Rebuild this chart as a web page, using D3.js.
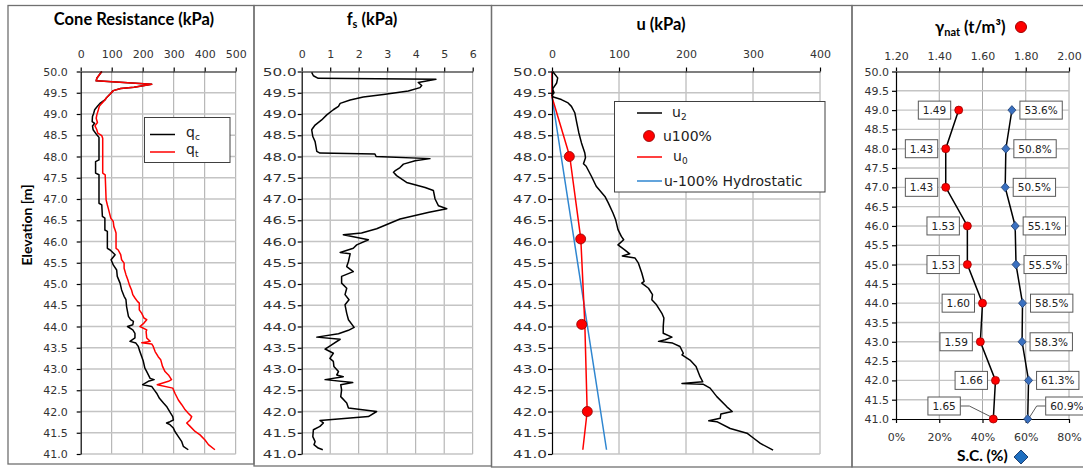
<!DOCTYPE html>
<html>
<head>
<meta charset="utf-8">
<script src="https://cdn.jsdelivr.net/npm/d3@7"></script>
<style>
  body { margin: 0; background: #fff; }
  text { font-family: "DejaVu Sans", sans-serif; }
  .ttl { font-family: Lato, "DejaVu Sans", sans-serif; font-weight: 700; fill: #000; }
</style>
</head>
<body>
<svg width="1083" height="468"></svg>
<script>
// ---- data ----
var elevTicks = d3.range(41, 50.001, 0.5);
var qcTicks = [0, 100, 200, 300, 400, 500];
var fsTicks = [0, 1, 2, 3, 4, 5, 6];
var uTicks = [0, 100, 200, 300, 400];
var gammaTicks = [1.2, 1.4, 1.6, 1.8, 2.0];
var scTicks = [0, 20, 40, 60, 80];

// [elevation m, kPa]
var qc = [[50.0,68],[49.84,52],[49.78,50],[49.70,229],[49.63,172],[49.60,129],[49.55,105],[49.47,95],
  [49.39,84],[49.33,78],[49.25,62],[49.18,54],[49.10,45],[49.02,42],[48.94,38],[48.82,37],[48.78,45],
  [48.72,38],[48.63,40],[48.51,52],[48.45,59],[47.92,59],[47.88,48],[47.61,48],[47.57,59],[46.90,59],
  [46.86,68],[46.59,70],[46.55,78],[46.27,78],[46.24,86],[45.84,86],[45.80,95],[45.69,111],[45.57,98],
  [45.45,105],[45.33,116],[45.18,118],[45.02,127],[44.86,132],[44.71,140],[44.63,146],[44.47,148],
  [44.24,154],[44.16,161],[44.12,170],[44.04,168],[44.00,151],[43.92,168],[43.84,175],[43.73,175],
  [43.65,159],[43.61,178],[43.53,186],[43.45,189],[43.29,197],[43.18,202],[43.02,207],[42.94,213],
  [42.78,224],[42.75,237],[42.71,218],[42.63,200],[42.59,229],[42.51,237],[42.43,245],[42.31,254],
  [42.20,267],[42.12,277],[41.96,290],[41.88,297],[41.80,299],[41.76,288],[41.73,277],[41.69,288],
  [41.61,299],[41.53,304],[41.41,315],[41.29,326],[41.18,331],[41.10,347]];

var qt = [[50.0,68],[49.84,52],[49.78,50],[49.70,229],[49.63,172],[49.60,129],[49.55,105],[49.47,95],
  [49.39,84],[49.33,78],[49.25,68],[49.18,60],[49.10,57],[48.98,52],[48.90,50],[48.80,54],[48.72,46],
  [48.63,52],[48.55,55],[48.49,68],[48.43,71],[47.61,71],[47.57,79],[46.98,82],[46.86,86],[46.78,89],
  [46.55,97],[46.47,105],[46.35,107],[46.27,111],[46.20,114],[45.84,114],[45.80,121],[45.69,129],
  [45.57,132],[45.49,140],[45.37,140],[45.22,146],[45.10,152],[44.98,157],[44.86,164],[44.75,168],
  [44.67,175],[44.59,183],[44.55,189],[44.39,189],[44.31,197],[44.20,204],[44.16,213],[44.08,204],
  [44.00,191],[43.92,213],[43.88,211],[43.73,213],[43.65,224],[43.62,197],[43.59,229],[43.53,234],
  [43.41,240],[43.29,250],[43.22,258],[43.06,264],[42.94,272],[42.86,283],[42.75,293],[42.71,283],
  [42.63,247],[42.55,297],[42.43,304],[42.27,315],[42.16,326],[42.04,337],[41.96,347],[41.88,358],
  [41.80,353],[41.73,342],[41.65,353],[41.53,369],[41.45,385],[41.33,401],[41.22,412],[41.10,433]];

var fs = [[49.98,0.35],[49.90,0.41],[49.84,0.58],[49.82,4.71],[49.74,4.09],[49.67,4.21],[49.62,4.15],
  [49.54,3.74],[49.46,2.87],[49.40,2.16],[49.33,1.70],[49.25,1.35],[49.18,1.29],[49.10,1.11],[48.98,0.88],
  [48.86,0.70],[48.74,0.47],[48.63,0.35],[48.47,0.39],[48.35,0.47],[48.12,0.53],[48.08,0.64],[48.06,2.57],
  [48.00,2.61],[47.95,4.50],[47.90,3.98],[47.82,3.57],[47.74,3.45],[47.66,3.27],[47.63,3.22],[47.55,3.33],
  [47.39,3.68],[47.27,4.33],[47.20,4.62],[47.00,4.68],[46.84,4.80],[46.77,5.09],[46.69,4.47],[46.53,3.45],
  [46.30,2.63],[46.20,2.10],[46.16,1.46],[46.04,2.34],[45.92,1.93],[45.84,1.81],[45.74,1.35],[45.71,1.70],
  [45.53,1.64],[45.41,1.58],[45.29,1.81],[45.18,1.40],[45.02,1.40],[44.90,1.58],[44.75,1.52],[44.63,1.66],
  [44.51,1.52],[44.31,1.58],[44.16,1.64],[43.98,1.84],[43.91,1.64],[43.83,1.29],[43.75,0.53],[43.70,1.35],
  [43.57,1.05],[43.47,0.82],[43.37,1.11],[43.25,0.99],[43.18,1.11],[43.06,1.13],[42.94,1.29],[42.86,1.23],
  [42.82,1.46],[42.75,0.82],[42.68,1.79],[42.63,1.37],[42.51,1.40],[42.35,1.37],[42.20,1.58],[42.08,1.64],
  [42.00,2.63],[41.88,2.34],[41.79,0.64],[41.73,0.76],[41.65,0.64],[41.57,0.41],[41.41,0.39],[41.29,0.47],
  [41.22,0.43],[41.14,0.58],[41.10,0.74]];

var u2 = [[50.0,1],[49.85,8.5],[49.73,7],[49.59,1],[49.50,3],[49.44,0],[49.40,2],[49.34,14],[49.26,24],
  [49.18,29],[49.03,34],[48.79,37],[48.56,40],[48.32,44],[48.08,49],[47.97,50],[47.83,47],[47.77,51],
  [47.53,59],[47.30,66],[47.06,79],[46.91,84],[46.67,91],[46.51,95],[46.28,98.5],[46.12,103.5],[46.04,107],
  [45.92,98.5],[45.81,108],[45.71,116],[45.66,105],[45.61,124],[45.49,129],[45.26,134],[45.06,137.5],
  [45.02,134],[44.90,144],[44.75,150],[44.63,149],[44.51,156],[44.31,164],[44.20,167],[44.00,166],
  [43.84,166],[43.75,179],[43.69,169],[43.65,159],[43.61,180],[43.53,191],[43.37,196],[43.33,194],
  [43.21,206],[43.06,215],[42.82,221],[42.70,225],[42.66,194],[42.64,226],[42.55,236],[42.35,246],
  [42.11,261],[42.00,269],[41.94,252],[41.84,251],[41.78,234],[41.76,246],[41.60,266],[41.49,291],
  [41.37,301],[41.25,311],[41.09,330]];
var u100 = [[48.0,25.9],[46.06,42.8],[44.05,44.3],[42.0,52.7]];
var u0 = [[50.0,0],[49.4,0],[48.0,26.5],[46.06,43],[44.05,49],[42.0,52.5],[41.1,46]];
var uHydro = [[50.0,0],[49.4,0],[41.1,81.4]];

var labElev = [49, 48, 47, 46, 45, 44, 43, 42, 41];
var gammaNat = [1.49, 1.43, 1.43, 1.53, 1.53, 1.60, 1.59, 1.66, 1.65];
var satCon = [53.6, 50.8, 50.5, 55.1, 55.5, 58.5, 58.3, 61.3, 60.9];

// ---- drawing ----
var svg = d3.select("svg");
var gridCol = "#a8a8a8", tickCol = "#333";

// panel frames
[[8, 254, 464], [254, 491.5, 466], [491.5, 852, 467], [852, 1090, 467]].forEach(function(p) {
  svg.append("rect").attr("x", p[0]).attr("y", 5.5).attr("width", p[1] - p[0]).attr("height", p[2] - 5.5)
    .attr("fill", "none").attr("stroke", "#707070").attr("stroke-width", 1.3);
});

function styleAxis(a, size) {
  a.select(".domain").attr("stroke", "#000").attr("stroke-width", 1.2);
  a.selectAll(".tick line").attr("stroke", "#000").attr("stroke-width", 1.2);
  a.selectAll(".tick text").attr("fill", tickCol).style("font-family", "'DejaVu Sans', sans-serif")
    .style("font-size", (size || 11) + "px");
}

function depthPanel(cfg) {
  var x = d3.scaleLinear().domain([cfg.ticks[0], cfg.ticks[cfg.ticks.length - 1]]).range(cfg.range);
  var y = d3.scaleLinear().domain([50, 41]).range([71.5, 454]);
  var g = svg.append("g");
  g.selectAll(".vg").data(cfg.ticks.slice(1)).enter().append("line")
    .attr("x1", function(d) { return x(d); }).attr("x2", function(d) { return x(d); })
    .attr("y1", y(50)).attr("y2", y(41)).attr("stroke", gridCol).attr("stroke-width", 1);
  g.selectAll(".hg").data(elevTicks.filter(function(d) { return d < 50; })).enter().append("line")
    .attr("x1", x.range()[0]).attr("x2", x.range()[1])
    .attr("y1", function(d) { return y(d); }).attr("y2", function(d) { return y(d); })
    .attr("stroke", "#c4c4c4").attr("stroke-width", 1.4);
  return { x: x, y: y, g: g, cfg: cfg };
}

function depthAxes(p) {
  var top = p.g.append("g").attr("transform", "translate(0," + p.y(50) + ")")
    .call(d3.axisTop(p.x).tickValues(p.cfg.ticks).tickSize(4).tickSizeOuter(0).tickPadding(10)
      .tickFormat(d3.format("d")));
  styleAxis(top);
  var left = p.g.append("g").attr("transform", "translate(" + p.x.range()[0] + ",0)")
    .call(d3.axisLeft(p.y).tickValues(elevTicks).tickSize(4).tickSizeOuter(0).tickPadding(p.cfg.pad)
      .tickFormat(d3.format(".1f")));
  styleAxis(left);
  if (p.cfg.wide) {
    left.selectAll(".tick text").attr("textLength", p.cfg.wide).attr("lengthAdjust", "spacingAndGlyphs");
  }
}

function drawLine(p, data, color, w) {
  var line = d3.line().x(function(d) { return p.x(d[1]); }).y(function(d) { return p.y(d[0]); });
  p.g.append("path").datum(data).attr("d", line).attr("fill", "none").attr("stroke", color)
    .attr("stroke-width", w || 1.5).attr("stroke-linejoin", "round");
}

// Panel 1 - cone resistance
var p1 = depthPanel({ ticks: qcTicks, range: [80.7, 235.7], pad: 9 });
drawLine(p1, qc, "#000");
drawLine(p1, qt, "#ff0000");
depthAxes(p1);
svg.append("text").attr("class", "ttl").attr("x", 134).attr("y", 25).attr("text-anchor", "middle")
  .style("font-size", "16.5px").text("Cone Resistance (kPa)");
svg.append("text").attr("class", "ttl").attr("transform", "translate(32,225) rotate(-90)")
  .attr("text-anchor", "middle").style("font-size", "14px").text("Elevation [m]");
var lg1 = svg.append("g");
lg1.append("rect").attr("x", 144.5).attr("y", 117.5).attr("width", 85.5).attr("height", 45)
  .attr("fill", "#fff").attr("stroke", "#404040");
[["c", "#000", 134.5], ["t", "#ff0000", 152]].forEach(function(e) {
  lg1.append("line").attr("x1", 150).attr("x2", 175).attr("y1", e[2]).attr("y2", e[2])
    .attr("stroke", e[1]).attr("stroke-width", 1.5);
  var t = lg1.append("text").attr("x", 186).attr("y", e[2] + 2).style("font-size", "14px").attr("fill", "#222");
  t.append("tspan").text("q");
  t.append("tspan").attr("dy", 3).style("font-size", "9px").text(e[0]);
});

// Panel 2 - sleeve friction
var p2 = depthPanel({ ticks: fsTicks, range: [301.7, 472.7], pad: 1, wide: 34 });
drawLine(p2, fs, "#000");
depthAxes(p2);
var t2 = svg.append("text").attr("class", "ttl").attr("x", 372).attr("y", 25).attr("text-anchor", "middle")
  .style("font-size", "16.5px");
t2.append("tspan").text("f");
t2.append("tspan").attr("dy", 3).style("font-size", "11px").text("s");
t2.append("tspan").attr("dy", -3).text(" (kPa)");

// Panel 3 - pore pressure
var p3 = depthPanel({ ticks: uTicks, range: [552, 820], pad: 1, wide: 34 });
drawLine(p3, uHydro, "#2f86d0");
drawLine(p3, u0, "#ff0000");
drawLine(p3, u2, "#000");
p3.g.selectAll(".u100").data(u100).enter().append("circle")
  .attr("cx", function(d) { return p3.x(d[1]); }).attr("cy", function(d) { return p3.y(d[0]); })
  .attr("r", 5).attr("fill", "#ff0000").attr("stroke", "#8b0000").attr("stroke-width", 0.8);
depthAxes(p3);
svg.append("text").attr("class", "ttl").attr("x", 661).attr("y", 30).attr("text-anchor", "middle")
  .style("font-size", "16.5px").text("u (kPa)");
var lg3 = svg.append("g");
lg3.append("rect").attr("x", 614.5).attr("y", 101.5).attr("width", 210.5).attr("height", 90.5)
  .attr("fill", "#fff").attr("stroke", "#404040");
lg3.append("line").attr("x1", 637).attr("x2", 662).attr("y1", 113).attr("y2", 113).attr("stroke", "#000").attr("stroke-width", 1.5);
lg3.append("circle").attr("cx", 649).attr("cy", 136).attr("r", 5.5).attr("fill", "#ff0000").attr("stroke", "#8b0000").attr("stroke-width", 0.8);
lg3.append("line").attr("x1", 637).attr("x2", 662).attr("y1", 157).attr("y2", 157).attr("stroke", "#ff0000").attr("stroke-width", 1.5);
lg3.append("line").attr("x1", 637).attr("x2", 662).attr("y1", 181).attr("y2", 181).attr("stroke", "#2f86d0").attr("stroke-width", 1.5);
var lt = lg3.append("text").attr("x", 672).attr("y", 117).style("font-size", "14px").attr("fill", "#222");
lt.append("tspan").text("u"); lt.append("tspan").attr("dy", 3).style("font-size", "9px").text("2");
lg3.append("text").attr("x", 663).attr("y", 141).style("font-size", "14px").attr("fill", "#222").text("u100%");
lt = lg3.append("text").attr("x", 673).attr("y", 161).style("font-size", "14px").attr("fill", "#222");
lt.append("tspan").text("u"); lt.append("tspan").attr("dy", 3).style("font-size", "9px").text("0");
lg3.append("text").attr("x", 664).attr("y", 186).style("font-size", "14px").attr("fill", "#222").text("u-100% Hydrostatic");

// Panel 4 - unit weight and saturation
var xg = d3.scaleLinear().domain([1.2, 2.0]).range([896, 1069]);
var xs = d3.scaleLinear().domain([0, 80]).range([896, 1069]);
var y4 = d3.scaleLinear().domain([50, 41]).range([71.5, 419]);
var g4 = svg.append("g");
g4.selectAll(".vg").data(gammaTicks.slice(1)).enter().append("line")
  .attr("x1", function(d) { return xg(d); }).attr("x2", function(d) { return xg(d); })
  .attr("y1", y4(50)).attr("y2", y4(41)).attr("stroke", gridCol);
g4.selectAll(".hg").data(elevTicks.filter(function(d) { return d > 41 && d < 50; })).enter().append("line")
  .attr("x1", 896).attr("x2", 1069)
  .attr("y1", function(d) { return y4(d); }).attr("y2", function(d) { return y4(d); })
  .attr("stroke", "#c4c4c4").attr("stroke-width", 1.4);

var rows = labElev.map(function(e, i) { return { e: e, g: gammaNat[i], s: satCon[i] }; });
g4.append("path").datum(rows).attr("fill", "none").attr("stroke", "#000").attr("stroke-width", 1.5)
  .attr("d", d3.line().x(function(d) { return xg(d.g); }).y(function(d) { return y4(d.e); }));
g4.append("path").datum(rows).attr("fill", "none").attr("stroke", "#000").attr("stroke-width", 1.5)
  .attr("d", d3.line().x(function(d) { return xs(d.s); }).y(function(d) { return y4(d.e); }));

var ax4t = g4.append("g").attr("transform", "translate(0," + y4(50) + ")")
  .call(d3.axisTop(xg).tickValues(gammaTicks).tickSize(4).tickSizeOuter(0).tickPadding(8).tickFormat(d3.format(".2f")));
styleAxis(ax4t);
var ax4b = g4.append("g").attr("transform", "translate(0," + y4(41) + ")")
  .call(d3.axisBottom(xs).tickValues(scTicks).tickSize(4).tickSizeOuter(0).tickPadding(10).tickFormat(function(d) { return d + "%"; }));
styleAxis(ax4b);
var ax4l = g4.append("g").attr("transform", "translate(896,0)")
  .call(d3.axisLeft(y4).tickValues(elevTicks).tickSize(4).tickSizeOuter(0).tickPadding(3).tickFormat(d3.format(".1f")));
styleAxis(ax4l);

function dataLabel(txt, px, py, side, last) {
  var lab = g4.append("g");
  var t = lab.append("text").style("font-size", "10.5px").attr("fill", "#222").text(txt);
  var w = t.node().getComputedTextLength() + 9, h = 18;
  var cy = last ? py - 13 : py;
  var bx;
  if (side < 0) bx = last ? px - 33 - w : px - 8 - w;
  else bx = last ? px + 18 : px + 8;
  if (last) {
    var ex = side < 0 ? bx + w : bx;
    lab.append("path").attr("fill", "none").attr("stroke", "#595959").attr("stroke-width", 1)
      .attr("d", "M" + ex + "," + cy + "H" + (ex + side * -9) + "L" + (px + side * 2) + "," + (py - 2));
  }
  lab.append("rect").attr("x", bx).attr("y", cy - h / 2).attr("width", w).attr("height", h)
    .attr("fill", "#fff").attr("stroke", "#595959");
  t.attr("x", bx + 4.5).attr("y", cy + 4).raise();
}
rows.forEach(function(d, i) {
  var last = i === rows.length - 1;
  dataLabel(d3.format(".2f")(d.g), xg(d.g), y4(d.e), -1, last);
  dataLabel(d3.format(".1f")(d.s) + "%", xs(d.s), y4(d.e), 1, last);
});

g4.selectAll(".gpt").data(rows).enter().append("circle")
  .attr("cx", function(d) { return xg(d.g); }).attr("cy", function(d) { return y4(d.e); })
  .attr("r", 4).attr("fill", "#ff0000").attr("stroke", "#a00000").attr("stroke-width", 0.8);
g4.selectAll(".spt").data(rows).enter().append("path")
  .attr("transform", function(d) { return "translate(" + xs(d.s) + "," + y4(d.e) + ")"; })
  .attr("d", "M0,-4.5L4,0L0,4.5L-4,0Z").attr("fill", "#3a70c0").attr("stroke", "#1f3f70").attr("stroke-width", 0.8);

var t4 = svg.append("text").attr("class", "ttl").attr("x", 935).attr("y", 33).style("font-size", "16.5px");
t4.append("tspan").text("γ");
t4.append("tspan").attr("dy", 3).style("font-size", "11px").text("nat");
t4.append("tspan").attr("dy", -3).text(" (t/m³)");
svg.append("circle").attr("cx", 1021).attr("cy", 27).attr("r", 5.5).attr("fill", "#ff0000").attr("stroke", "#a00000");
svg.append("text").attr("class", "ttl").attr("x", 957).attr("y", 461).style("font-size", "15.5px").text("S.C. (%)");
svg.append("path").attr("transform", "translate(1021,457)").attr("d", "M0,-7L7,0L0,7L-7,0Z")
  .attr("fill", "#1f6fc0").attr("stroke", "#1f3f70");
</script>
</body>
</html>
